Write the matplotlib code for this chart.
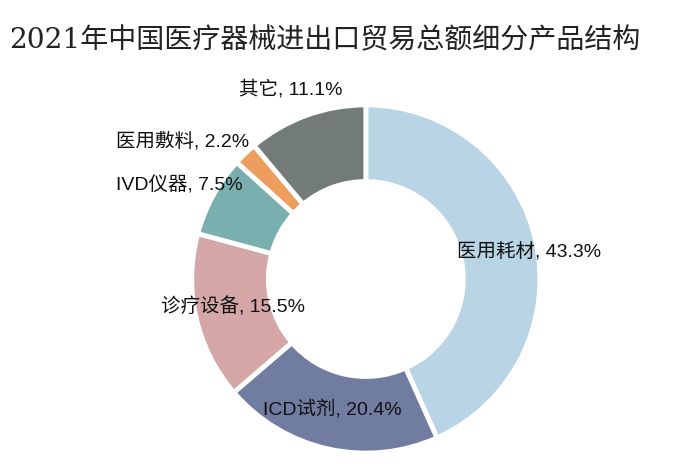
import numpy as np
import matplotlib.pyplot as plt

# data
categories = ['医用耗材', 'ICD试剂', '诊疗设备', 'IVD仪器', '医用敷料', '其它']
shares = [43.3, 20.4, 15.5, 7.5, 2.2, 11.1]
colors = ['#b8d4e5', '#717ca1', '#d4a6a5', '#79afae', '#ee9e5c', '#727b78']
title = '2021年中国医疗器械进出口贸易总额细分产品结构'

# label placement (radius in units of outer radius, extra angle in degrees)
label_r = [0.95, 0.77, 0.78, 1.20, 1.32, 1.18]
label_da = [-2.4, -2.0, -1.3, 1.6, 9.0, 1.6]

label_font = ['Liberation Sans', 'Noto Sans CJK SC']
title_font = ['DejaVu Serif', 'Noto Sans CJK SC']

fig = plt.figure(figsize=(6.8, 4.77), dpi=100)
ax = fig.add_axes([0.282, 0.048, 0.512, 0.730])

wedges, _ = ax.pie(shares, colors=colors, startangle=90, counterclock=False,
                   radius=1.0, wedgeprops=dict(width=0.44, edgecolor='white', linewidth=3.5))
ax.set_xlim(-1, 1)
ax.set_ylim(-1, 1)
ax.set_aspect('equal')
ax.axis('off')

for w, cat, s, r, da in zip(wedges, categories, shares, label_r, label_da):
    ang = np.deg2rad((w.theta1 + w.theta2) / 2 + da)
    ax.text(r * np.cos(ang), r * np.sin(ang), f'{cat}, {s}%',
            ha='center', va='center', fontsize=14, family=label_font, color='#111111')

fig.text(0.013, 0.915, title, fontsize=20.2, family=title_font, color='#222222',
         ha='left', va='center')

fig.savefig('out.png', dpi=100)
